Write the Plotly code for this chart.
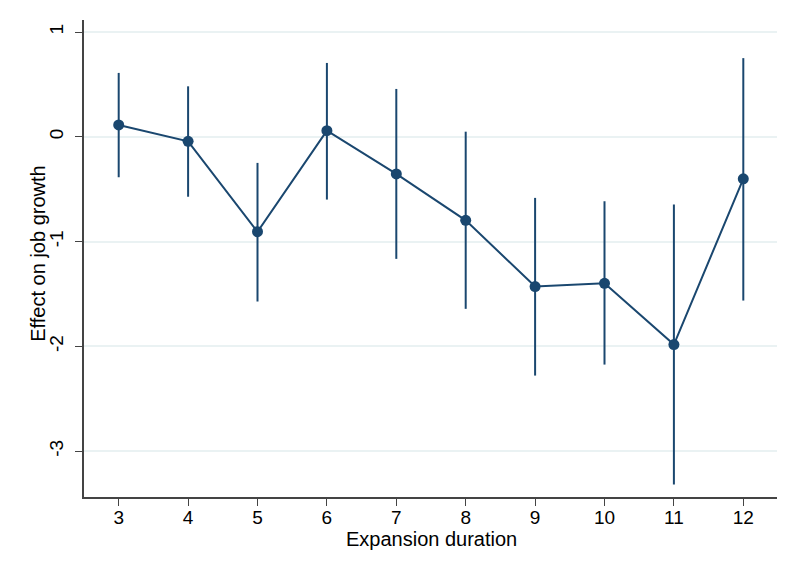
import plotly.graph_objects as go

durations = [3, 4, 5, 6, 7, 8, 9, 10, 11, 12]
effect = [0.114, -0.042, -0.905, 0.06, -0.353, -0.796, -1.428, -1.397, -1.982, -0.40]
ci_low = [-0.385, -0.571, -1.571, -0.598, -1.164, -1.641, -2.278, -2.173, -3.318, -1.562]
ci_high = [0.611, 0.483, -0.248, 0.706, 0.458, 0.05, -0.582, -0.614, -0.646, 0.752]
y_ticks = [-3, -2, -1, 0, 1]
y_tick_labels = ["-3", "-2", "-1", "0", "1"]
x_ticks = durations

NAVY = "#1a476f"
RED = "#c10534"
GRID = "#eaf2f3"
FONT = "Liberation Sans, Arial, sans-serif"

err_up = [h - e for h, e in zip(ci_high, effect)]
err_down = [e - l for e, l in zip(effect, ci_low)]

fig = go.Figure()
fig.add_trace(go.Scatter(
    x=durations, y=effect, mode="lines+markers",
    line=dict(color=NAVY, width=2),
    marker=dict(color=NAVY, size=11),
    error_y=dict(type="data", symmetric=False, array=err_up, arrayminus=err_down,
                 color=NAVY, thickness=2, width=0),
    showlegend=False,
))

# page has an 8px body margin, so the figure is sized to fit the window
W, H = 777, 567
ml, mr, mt, mb = 76, 7, 12, 77.5

fig.update_layout(
    width=W, height=H,
    margin=dict(l=ml, r=mr, t=mt, b=mb, pad=0, autoexpand=False),
    paper_bgcolor="white", plot_bgcolor="white",
    font=dict(family=FONT, size=19, color="#000000"),
    xaxis=dict(
        range=[2.5, 12.5], tickmode="array", tickvals=x_ticks,
        ticks="outside", ticklen=7, tickwidth=1.2, tickcolor="#444",
        ticklabelstandoff=-5,
        showline=True, linecolor="#444", linewidth=1.5,
        showgrid=False, zeroline=False, automargin=False,
        tickfont=dict(size=19),
    ),
    yaxis=dict(
        range=[-3.437, 1.116], tickmode="array", tickvals=y_ticks,
        ticktext=y_tick_labels,
        ticks="outside", ticklen=7, tickwidth=1.2, tickcolor="#444",
        tickangle=-90, ticklabelstandoff=5,
        showline=True, linecolor="#444", linewidth=1.5,
        showgrid=True, gridcolor=GRID, gridwidth=1.5, zeroline=False,
        automargin=False,
        tickfont=dict(size=19),
    ),
    shapes=[
        dict(type="line", xref="paper", yref="y", x0=0, x1=1, y0=0, y1=0,
             line=dict(color=RED, width=2), layer="below"),
    ],
    annotations=[
        dict(text="Expansion duration", xref="paper", yref="paper",
             x=0.5, y=0, xanchor="center", yanchor="middle", yshift=-42,
             showarrow=False, font=dict(size=20)),
        dict(text="Effect on job growth", xref="paper", yref="paper",
             x=0, y=0.51, xanchor="center", yanchor="middle", xshift=-46,
             textangle=-90, showarrow=False, font=dict(size=20)),
    ],
)

fig.write_html("out.html")
